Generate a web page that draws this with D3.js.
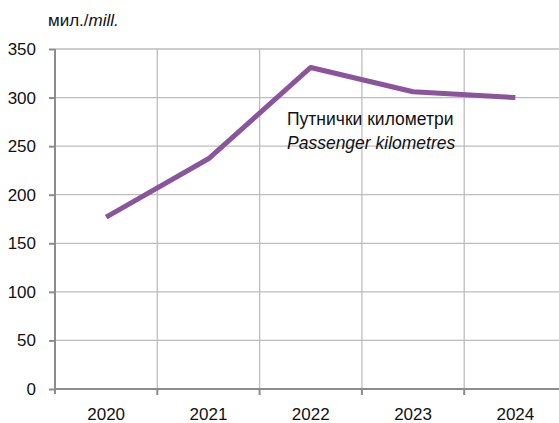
<!DOCTYPE html>
<html>
<head>
<meta charset="utf-8">
<script src="https://cdn.jsdelivr.net/npm/d3@7"></script>
<style>
  body { margin: 0; background: #fff; }
  svg { display: block; font-family: "Liberation Sans", Arial, sans-serif; }
</style>
</head>
<body>
<svg id="chart" width="559" height="423"></svg>
<script>
// data
var years = ["2020", "2021", "2022", "2023", "2024"];
var passengerKm = [177, 237, 331, 306, 300];
var yTicks = [0, 50, 100, 150, 200, 250, 300, 350];

(function () {
    var svg = d3.select("#chart");
    var plotLeft = 55, plotTop = 49, plotBottom = 389, bandW = 102.3;

    var x = d3.scaleBand().domain(years).range([plotLeft, plotLeft + bandW * years.length]);
    var y = d3.scaleLinear().domain([0, 350]).range([plotBottom, plotTop]);

    // horizontal grid
    svg.append("g").selectAll("line").data(yTicks.slice(1)).enter().append("line")
        .attr("x1", plotLeft).attr("x2", 559)
        .attr("y1", function(d) { return y(d); }).attr("y2", function(d) { return y(d); })
        .attr("stroke", "#bdbdbd").attr("stroke-width", 1.3);

    // vertical grid at band boundaries
    svg.append("g").selectAll("line").data(years.slice(1)).enter().append("line")
        .attr("x1", function(d) { return x(d); }).attr("x2", function(d) { return x(d); })
        .attr("y1", plotTop).attr("y2", plotBottom)
        .attr("stroke", "#bdbdbd").attr("stroke-width", 1.3);

    // y axis
    var yAxis = svg.append("g").attr("transform", "translate(" + plotLeft + ",0)")
        .call(d3.axisLeft(y).tickValues(yTicks).tickSize(6).tickPadding(13));
    yAxis.select(".domain").attr("stroke", "#8c8c8c").attr("stroke-width", 2)
        .attr("d", "M0," + plotTop + "V" + (plotBottom + 5));
    yAxis.selectAll(".tick line").attr("stroke", "#8c8c8c").attr("stroke-width", 2);
    yAxis.selectAll("text").attr("font-size", 17).attr("fill", "#111")
        .attr("font-family", "Liberation Sans, Arial, sans-serif");

    // x axis line
    svg.append("line").attr("x1", plotLeft).attr("x2", 559).attr("y1", plotBottom).attr("y2", plotBottom)
        .attr("stroke", "#8c8c8c").attr("stroke-width", 2);

    // x tick marks at band edges
    svg.append("g").selectAll("line").data(years.slice(1)).enter().append("line")
        .attr("x1", function(d) { return x(d); }).attr("x2", function(d) { return x(d); })
        .attr("y1", plotBottom).attr("y2", plotBottom + 6)
        .attr("stroke", "#8c8c8c").attr("stroke-width", 2);

    svg.append("g").selectAll("text").data(years).enter().append("text")
        .attr("x", function(d) { return x(d) + x.bandwidth() / 2; })
        .attr("y", 420)
        .attr("text-anchor", "middle").attr("font-size", 17).attr("fill", "#111")
        .text(function(d) { return d; });

    // line
    var line = d3.line()
        .x(function(d, i) { return x(years[i]) + x.bandwidth() / 2; })
        .y(function(d) { return y(d); });

    svg.append("path").datum(passengerKm)
        .attr("d", line)
        .attr("fill", "none")
        .attr("stroke", "#8a559b")
        .attr("stroke-width", 5)
        .attr("stroke-linejoin", "round");

    // unit label
    var unit = svg.append("text").attr("x", 48).attr("y", 26).attr("font-size", 17).attr("fill", "#111");
    unit.append("tspan").text("мил./");
    unit.append("tspan").attr("font-style", "italic").text("mill.");

    // series label
    svg.append("text").attr("x", 287).attr("y", 125).attr("font-size", 17.5).attr("fill", "#111")
        .text("Путнички километри");
    svg.append("text").attr("x", 287).attr("y", 149).attr("font-size", 17.5).attr("fill", "#111")
        .attr("font-style", "italic").text("Passenger kilometres");
})();
</script>
</body>
</html>
